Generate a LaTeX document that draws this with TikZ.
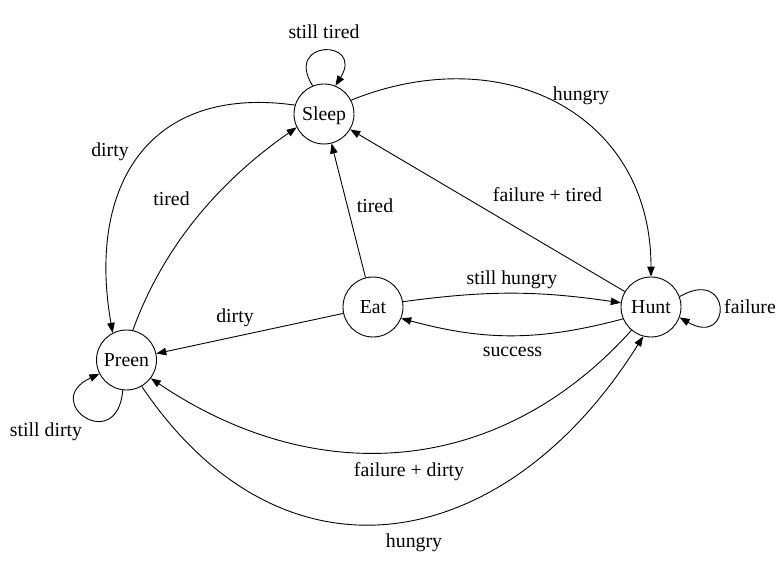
\documentclass[tikz,border=0pt]{standalone}
\usepackage{fontspec}
\setmainfont{Liberation Serif}
\usetikzlibrary{arrows.meta}

\begin{document}
\begin{tikzpicture}[x=1pt, y=1pt, line width=0.9pt,
        >={Triangle[length=10pt,width=7.5pt]},
        state/.style={draw, circle, minimum size=60pt, inner sep=0pt,
            font=\fontsize{19.8}{23}\selectfont, text height=17.5pt, text depth=3.9pt},
        lbl/.style={inner sep=0pt, font=\fontsize{19.8}{23}\selectfont,
            text height=17.5pt, text depth=3.9pt}]
        \useasboundingbox (0,0) rectangle (780,-575);

        \node[state] (sleep) at (324,-114) {Sleep};
        \node[state] (eat) at (373,-307) {Eat};
        \node[state] (hunt) at (651,-307) {Hunt};
        \node[state] (preen) at (126.5,-360) {Preen};

        % loops
        \draw[->] (sleep.112) to[out=122, in=58, looseness=6.2] (sleep.68);
        \draw[->] (hunt.20) to[out=30, in=-30, looseness=7.5] (hunt.-20);
        \draw[->] (preen.263) to[out=265, in=205, looseness=5.9] (preen.207);

        % from sleep
        \draw[->] (sleep.27) to[out=22, in=90, looseness=1.2] (hunt.90);
        \draw[->] (sleep.163) to[out=172, in=100, looseness=1.3] (preen.117);

        % from eat
        \draw[->] (eat) -- (sleep);
        \draw[->] (eat.10) to[bend left=8] (hunt.172);
        \draw[->] (eat) -- (preen);

        % from hunt
        \draw[->] (hunt) -- (sleep);
        \draw[->] (hunt.203) to[bend left=15] (eat.-22);
        \draw[->] (hunt.230) to[out=228, in=-34, looseness=1.05] (preen.-37);

        % from preen
        \draw[->] (preen.78) to[out=70, in=215, looseness=0.9] (sleep.206);
        \draw[->] (preen.-60) to[out=-56, in=238, looseness=1.3] (hunt.255);

        \node[lbl] (lsleep) at (324,-32) {still tired};
        \node[lbl] (lhungrytop) at (581,-94) {hungry};
        \node[lbl] (ldirtyleft) at (110,-150) {dirty};
        \node[lbl] (ltiredleft) at (171.5,-199) {tired};
        \node[lbl] (ltiredmid) at (375,-206) {tired};
        \node[lbl] (lfailtired) at (547.5,-195) {failure + tired};
        \node[lbl] (lstillhungry) at (512,-278) {still hungry};
        \node[lbl] (lsuccess) at (512.5,-350) {success};
        \node[lbl] (ldirtymid) at (235,-316) {dirty};
        \node[lbl] (lfailure) at (750,-307) {failure};
        \node[lbl] (lpreen) at (46,-430) {still dirty};
        \node[lbl] (lfaildirty) at (409,-470) {failure + dirty};
        \node[lbl] (lhungrybot) at (414,-541) {hungry};
    \end{tikzpicture}
\end{document}
